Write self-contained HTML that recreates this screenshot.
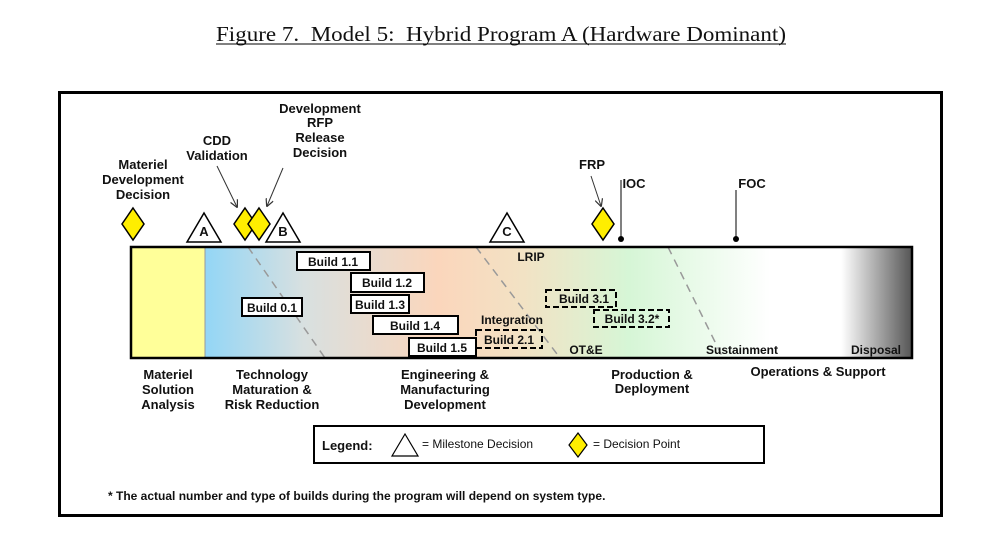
<!DOCTYPE html>
<html><head><meta charset="utf-8"><style>
html,body{margin:0;padding:0;background:#fff;width:1004px;height:557px;overflow:hidden}
svg{display:block}
text{font-family:"Liberation Sans",Arial,sans-serif;font-weight:bold;font-size:13px;fill:#111}
.n{font-weight:normal}
</style></head><body>
<svg width="1004" height="557" viewBox="0 0 1004 557" xmlns="http://www.w3.org/2000/svg">
<defs>
<linearGradient id="g" x1="205" x2="912" y1="0" y2="0" gradientUnits="userSpaceOnUse">
<stop offset="0" stop-color="#93d6f6"/>
<stop offset="0.14" stop-color="#d8e0e0"/>
<stop offset="0.33" stop-color="#fbd6bc"/>
<stop offset="0.45" stop-color="#f2e2c4"/>
<stop offset="0.6" stop-color="#d6f6d6"/>
<stop offset="0.8" stop-color="#ffffff"/>
<stop offset="0.9" stop-color="#ffffff"/>
<stop offset="1" stop-color="#555555"/>
</linearGradient>
<marker id="ar" viewBox="0 0 10 10" refX="9" refY="5" markerWidth="8" markerHeight="8" orient="auto"><path d="M0,0 L10,5 L0,10" fill="none" stroke="#333" stroke-width="1.5"/></marker>
</defs>
<text x="216" y="41" textLength="570" lengthAdjust="spacingAndGlyphs" xml:space="preserve" style="font-family:'Liberation Serif',serif;font-weight:normal;font-size:21px">Figure 7.  Model 5:  Hybrid Program A (Hardware Dominant)</text>
<line x1="216" y1="44" x2="786" y2="44" stroke="#000" stroke-width="1"/>
<rect x="59.5" y="92.5" width="882" height="423" fill="none" stroke="#000" stroke-width="3"/>
<rect x="131" y="247" width="74" height="111" fill="#ffff99"/>
<rect x="205" y="247" width="707" height="111" fill="url(#g)"/>
<line x1="205" y1="247" x2="205" y2="358" stroke="#999" stroke-width="1"/>
<g stroke="#999" stroke-width="1.5" stroke-dasharray="8,6">
<line x1="248" y1="247" x2="325" y2="358"/>
<line x1="476" y1="247" x2="560" y2="358"/>
<line x1="668" y1="247" x2="723" y2="358"/>
</g>
<rect x="131" y="247" width="781" height="111" fill="none" stroke="#000" stroke-width="2.5"/>
<g fill="#fff" stroke="#000" stroke-width="2">
<rect x="297" y="252" width="73" height="18"/>
<rect x="351" y="273" width="73" height="19"/>
<rect x="351" y="295" width="58" height="18"/>
<rect x="373" y="316" width="85" height="18"/>
<rect x="409" y="338" width="67" height="18"/>
<rect x="242" y="298" width="60" height="18"/>
</g>
<g fill="none" stroke="#000" stroke-width="2" stroke-dasharray="6,3">
<rect x="476" y="330" width="66" height="18"/>
<rect x="546" y="290" width="70" height="17"/>
<rect x="594" y="310" width="75" height="17"/>
</g>
<text x="333" y="266" text-anchor="middle" style="font-size:12px">Build 1.1</text>
<text x="387" y="287" text-anchor="middle" style="font-size:12px">Build 1.2</text>
<text x="380" y="309" text-anchor="middle" style="font-size:12px">Build 1.3</text>
<text x="415" y="330" text-anchor="middle" style="font-size:12px">Build 1.4</text>
<text x="442" y="352" text-anchor="middle" style="font-size:12px">Build 1.5</text>
<text x="272" y="312" text-anchor="middle" style="font-size:12px">Build 0.1</text>
<text x="509" y="344" text-anchor="middle" style="font-size:12px">Build 2.1</text>
<text x="584" y="303" text-anchor="middle" style="font-size:12px">Build 3.1</text>
<text x="632" y="323" text-anchor="middle" style="font-size:12px">Build 3.2*</text>
<text x="531" y="261" text-anchor="middle" style="font-size:12px">LRIP</text>
<text x="512" y="324" text-anchor="middle" style="font-size:12px">Integration</text>
<text x="586" y="354" text-anchor="middle" style="font-size:12px">OT&amp;E</text>
<text x="742" y="354" text-anchor="middle" style="font-size:12px">Sustainment</text>
<text x="876" y="354" text-anchor="middle" style="font-size:12px">Disposal</text>
<g fill="#fff" stroke="#000" stroke-width="1.5">
<polygon points="204,213 187,242 221,242"/>
<polygon points="283,213 266,242 300,242"/>
<polygon points="507,213 490,242 524,242"/>
</g>
<text x="204" y="236" text-anchor="middle" style="font-size:13px">A</text>
<text x="283" y="236" text-anchor="middle" style="font-size:13px">B</text>
<text x="507" y="236" text-anchor="middle" style="font-size:13px">C</text>
<g fill="#ffee00" stroke="#000" stroke-width="1.5">
<polygon points="133,208 144,224 133,240 122,224"/>
<polygon points="245,208 256,224 245,240 234,224"/>
<polygon points="259,208 270,224 259,240 248,224"/>
<polygon points="603,208 614,224 603,240 592,224"/>
</g>
<g stroke="#333" stroke-width="1" marker-end="url(#ar)">
<line x1="217" y1="166" x2="237" y2="207"/>
<line x1="283" y1="168" x2="267" y2="206"/>
<line x1="591" y1="176" x2="601" y2="206"/>
</g>
<line x1="621" y1="180" x2="621" y2="239" stroke="#000" stroke-width="1"/>
<circle cx="621" cy="239" r="3" fill="#000"/>
<line x1="736" y1="190" x2="736" y2="239" stroke="#000" stroke-width="1"/>
<circle cx="736" cy="239" r="3" fill="#000"/>
<g text-anchor="middle">
<text x="143" y="169">Materiel</text><text x="143" y="184">Development</text><text x="143" y="199">Decision</text>
<text x="217" y="145">CDD</text><text x="217" y="160">Validation</text>
<text x="320" y="113">Development</text><text x="320" y="127">RFP</text><text x="320" y="142">Release</text><text x="320" y="157">Decision</text>
<text x="592" y="169">FRP</text>
<text x="634" y="188">IOC</text>
<text x="752" y="188">FOC</text>
<text x="168" y="379">Materiel</text><text x="168" y="394">Solution</text><text x="168" y="409">Analysis</text>
<text x="272" y="379">Technology</text><text x="272" y="394">Maturation &amp;</text><text x="272" y="409">Risk Reduction</text>
<text x="445" y="379">Engineering &amp;</text><text x="445" y="394">Manufacturing</text><text x="445" y="409">Development</text>
<text x="652" y="379">Production &amp;</text><text x="652" y="393">Deployment</text>
<text x="818" y="376">Operations &amp; Support</text>
</g>
<rect x="314" y="426" width="450" height="37" fill="#fff" stroke="#000" stroke-width="2"/>
<text x="322" y="450">Legend:</text>
<polygon points="405,434 392,456 418,456" fill="#fff" stroke="#000" stroke-width="1.2"/>
<text x="422" y="448" class="n" style="font-size:12px">=  Milestone Decision</text>
<polygon points="578,433 587,445 578,457 569,445" fill="#ffee00" stroke="#000" stroke-width="1.2"/>
<text x="593" y="448" class="n" style="font-size:12px">=  Decision Point</text>
<text x="108" y="500" style="font-size:12px">* The actual number and type of builds during the program will depend on system type.</text>
</svg>
</body></html>
